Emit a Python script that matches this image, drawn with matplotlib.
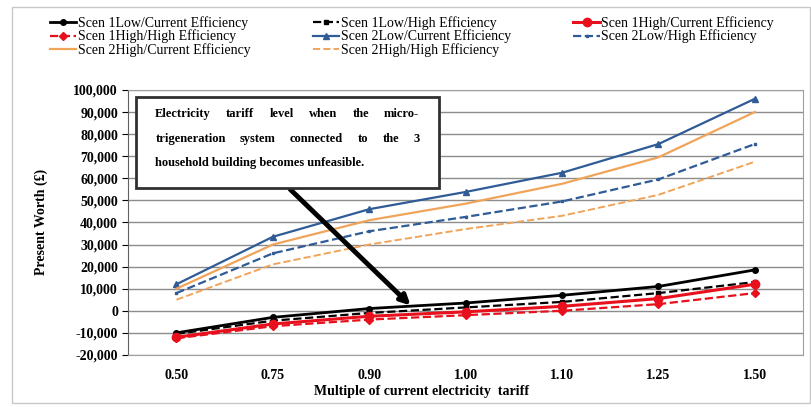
import matplotlib.pyplot as plt
from matplotlib.patches import Rectangle

plt.rcParams['font.family'] = ['Liberation Serif', 'DejaVu Serif']

tariffs = ['0.50', '0.75', '0.90', '1.00', '1.10', '1.25', '1.50']

s1_low_cur = [-10000, -3000, 1000, 3500, 7000, 11000, 18500]
s1_low_high = [-10500, -4500, -1000, 1500, 4000, 8000, 13000]
s1_high_cur = [-12000, -6000, -2500, -500, 2000, 5500, 12000]
s1_high_high = [-12500, -7000, -4000, -2000, 0, 3000, 8000]
s2_low_cur = [12000, 33500, 46000, 53800, 62500, 75500, 96000]
s2_low_high = [8000, 26000, 36000, 42500, 49500, 59500, 75500]
s2_high_cur = [10000, 30000, 41000, 48500, 57500, 69500, 90000]
s2_high_high = [5000, 21000, 30000, 37000, 43000, 52500, 67500]

labels = ['Scen 1Low/Current Efficiency', 'Scen 1Low/High Efficiency',
          'Scen 1High/Current Efficiency', 'Scen 1High/High Efficiency',
          'Scen 2Low/Current Efficiency', 'Scen 2Low/High Efficiency',
          'Scen 2High/Current Efficiency', 'Scen 2High/High Efficiency']

note_lines = ['Electricity tariff level when the micro-',
              'trigeneration system connected to the 3',
              'household building becomes unfeasible.']

fig = plt.figure(figsize=(8.12, 4.07), dpi=100)
ax = fig.add_axes([0.158, 0.128, 0.831, 0.651])

x = range(len(tariffs))
blue = '#2f5b96'
orange = '#f0a45a'
red = '#e8101c'

h = []
h += ax.plot(x, s1_low_cur, color='black', lw=2, marker='o', ms=4, label=labels[0])
h += ax.plot(x, s1_low_high, color='black', lw=1.6, ls='--', marker='s', ms=3, label=labels[1])
h += ax.plot(x, s1_high_cur, color=red, lw=2.2, marker='o', ms=6, label=labels[2])
h += ax.plot(x, s1_high_high, color=red, lw=1.6, ls='--', marker='D', ms=4, label=labels[3])
h += ax.plot(x, s2_low_cur, color=blue, lw=1.6, marker='^', ms=4, label=labels[4])
h += ax.plot(x, s2_low_high, color=blue, lw=1.6, ls='--', marker='s', ms=2, label=labels[5])
h += ax.plot(x, s2_high_cur, color=orange, lw=1.6, label=labels[6])
h += ax.plot(x, s2_high_high, color=orange, lw=1.4, ls='--', label=labels[7])

ax.set_xlim(-0.5, 6.5)
ax.set_ylim(-20000, 100000)
ax.set_yticks(range(-20000, 100001, 10000))
ax.set_yticklabels([f'{v:,}' for v in range(-20000, 100001, 10000)], fontsize=10, fontweight='bold')
ax.set_xticks(list(x))
ax.set_xticklabels(tariffs, fontsize=10, fontweight='bold')
ax.tick_params(axis='x', length=0, pad=10)
ax.tick_params(axis='y', length=4, direction='out')
ax.yaxis.grid(True, color='#8c8c8c', lw=1)
ax.set_axisbelow(True)
for sp in ['top', 'right', 'bottom']:
    ax.spines[sp].set_color('#a0a0a0')
ax.spines['left'].set_color('#606060')

ax.set_ylabel('Present Worth (£)', fontsize=10, fontweight='bold', labelpad=18)
ax.set_xlabel('Multiple of current electricity  tariff', fontsize=10, fontweight='bold', labelpad=4)
ax.xaxis.set_label_coords(0.434, -0.115)

# legend, row-major order
order = [0, 3, 6, 1, 4, 7, 2, 5]
fig.legend([h[i] for i in order], [labels[i] for i in order], ncol=3,
           loc='upper left', bbox_to_anchor=(0.046, 0.99), frameon=False,
           fontsize=10, handlelength=1.9, columnspacing=4.5, labelspacing=-0.05,
           handletextpad=0.1)

# annotation
ax.annotate('', xy=(2.45, 1500), xytext=(1.16, 55800),
            arrowprops=dict(arrowstyle='-|>', color='black', lw=3.5, mutation_scale=14))
ax.add_patch(Rectangle((-0.42, 55800), 3.14, 41000, facecolor='white',
                       edgecolor='#303030', lw=2, zorder=5, clip_on=False))

# justified text inside the box
left, right = -0.22, 2.52
ys = [89000, 78000, 67000]
fig.canvas.draw()
r = fig.canvas.get_renderer()
inv = ax.transData.inverted()
for i, (line, yv) in enumerate(zip(note_lines, ys)):
    words = line.split()
    ts = [ax.text(left, yv, w, fontsize=9, fontweight='bold', va='center', zorder=6) for w in words]
    if i == len(note_lines) - 1:
        ts[0].set_text(line)
        for t in ts[1:]:
            t.remove()
        continue
    widths = []
    for t in ts:
        bb = t.get_window_extent(r)
        widths.append(inv.transform((bb.x1, 0))[0] - inv.transform((bb.x0, 0))[0])
    gap = (right - left - sum(widths)) / (len(words) - 1)
    pos = left
    for t, w in zip(ts, widths):
        t.set_x(pos)
        pos += w + gap

fig.patches.append(Rectangle((0.015, 0.01), 0.982, 0.972, transform=fig.transFigure,
                             fill=False, edgecolor='#c8c8c8', lw=1))

fig.savefig('out.png', dpi=100)
